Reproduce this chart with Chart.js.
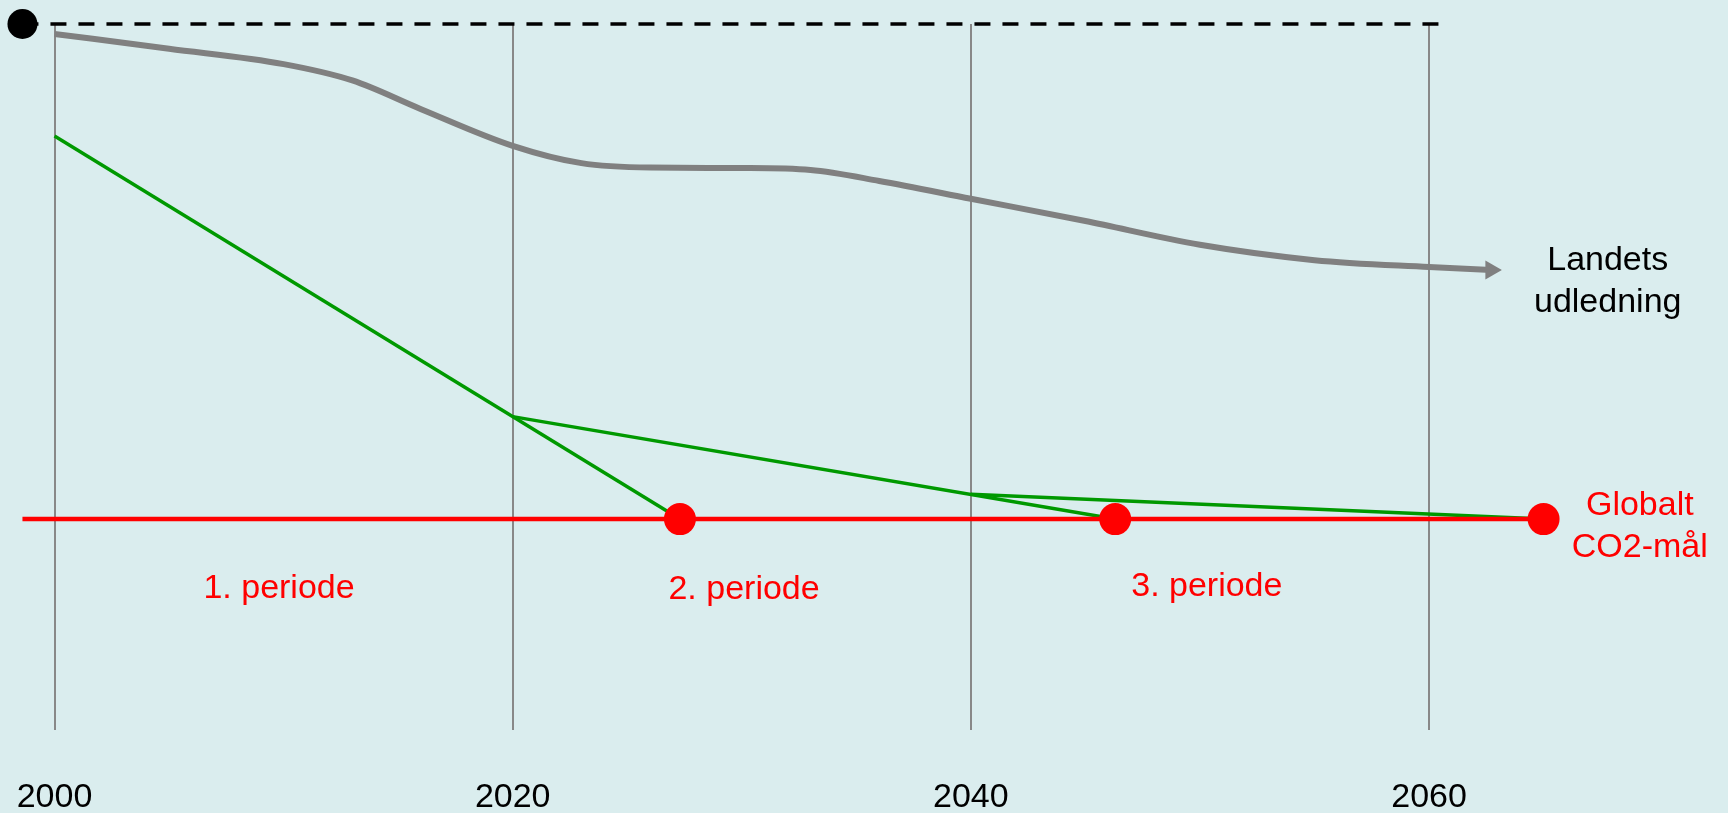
<!DOCTYPE html>
<html lang="da">
<head>
<meta charset="utf-8">
<title>Landets udledning og globalt CO2-mål</title>
<script src="https://cdn.jsdelivr.net/npm/chart.js@4/dist/chart.umd.min.js"></script>
<style>
    html, body {
        margin: 0;
        padding: 0;
        background: #daedee;
    }
    #wrap {
        width: 1728px;
        height: 813px;
    }
</style>
</head>
<body>
<div id="wrap"><canvas id="chart" width="1728" height="813"></canvas></div>
<script>
// Akse: år
const GRID_YEARS = [2000, 2020, 2040, 2060];

// Landets udledning (grå kurve med pil)
const UDLEDNING_YEARS = [2000, 2005, 2010, 2013, 2016, 2020, 2023, 2026, 2030, 2033, 2036, 2040, 2045, 2050, 2055, 2060, 2062.7];
const UDLEDNING_VALUES = [98.0, 95.0, 91.9, 88.6, 82.8, 75.4, 71.9, 71.0, 70.9, 70.5, 68.3, 64.7, 60.2, 55.4, 52.3, 50.9, 50.3];

// Reduktionsforløb for de tre perioder (grønne linjer)
const PERIODE1_YEARS = [2000, 2027.3];
const PERIODE1_VALUES = [77.4, 0];
const PERIODE2_YEARS = [2020, 2046.3];
const PERIODE2_VALUES = [20.7, 0];
const PERIODE3_YEARS = [2040, 2065];
const PERIODE3_VALUES = [5.0, 0];

// Globalt CO2-mål (rød linje med punkter)
const MAAL_YEARS = [1998.6, 2027.3, 2046.3, 2065];
const MAAL_VALUES = [0, 0, 0, 0];

// Udgangspunkt (sort punkt og stiplet linje)
const START_YEARS = [1998.6, 2060.8];
const START_VALUES = [100, 100];

// Tekster
const PERIODE_LABELS = ['1. periode', '2. periode', '3. periode'];
const PERIODE_LABEL_YEARS = [2009.8, 2030.1, 2050.3];
const PERIODE_LABEL_VALUES = [-16.0, -16.2, -15.6];
const SIDE_LABELS = [['Landets', 'udledning'], ['Globalt', 'CO2-mål']];
const SIDE_LABEL_YEARS = [2067.8, 2069.2];
const SIDE_LABEL_VALUES = [50.3, 0.8];

const FONT = "'Liberation Sans', Arial, sans-serif";

function points(xs, ys) {
    return xs.map((x, i) => ({ x: x, y: ys[i] }));
}

// Tekster tegnes via skalaerne
const textPlugin = {
    id: 'texts',
    afterDatasetsDraw(chart) {
        const ctx = chart.ctx;
        const xs = chart.scales.x;
        const ys = chart.scales.y;
        ctx.save();
        ctx.font = '34px ' + FONT;
        ctx.textAlign = 'center';
        ctx.textBaseline = 'alphabetic';

        ctx.fillStyle = '#ff0000';
        PERIODE_LABELS.forEach((txt, i) => {
            ctx.fillText(txt, xs.getPixelForValue(PERIODE_LABEL_YEARS[i]), ys.getPixelForValue(PERIODE_LABEL_VALUES[i]));
        });

        const colors = ['#000000', '#ff0000'];
        SIDE_LABELS.forEach((lines, i) => {
            ctx.fillStyle = colors[i];
            const x = xs.getPixelForValue(SIDE_LABEL_YEARS[i]);
            const y = ys.getPixelForValue(SIDE_LABEL_VALUES[i]);
            lines.forEach((line, j) => ctx.fillText(line, x, y + j * 41.5));
        });
        ctx.restore();
    }
};

new Chart(document.getElementById('chart'), {
    type: 'line',
    data: {
        datasets: [
            {
                data: points(MAAL_YEARS, MAAL_VALUES),
                borderColor: '#ff0000',
                backgroundColor: '#ff0000',
                borderWidth: 4.5,
                pointRadius: [0, 16, 16, 16],
                pointBorderWidth: 0,
                order: 0
            },
            {
                data: points(PERIODE1_YEARS, PERIODE1_VALUES),
                borderColor: '#009900',
                borderWidth: 3.5,
                pointRadius: 0,
                order: 1
            },
            {
                data: points(PERIODE2_YEARS, PERIODE2_VALUES),
                borderColor: '#009900',
                borderWidth: 3.5,
                pointRadius: 0,
                order: 1
            },
            {
                data: points(PERIODE3_YEARS, PERIODE3_VALUES),
                borderColor: '#009900',
                borderWidth: 3.5,
                pointRadius: 0,
                order: 1
            },
            {
                data: points(UDLEDNING_YEARS, UDLEDNING_VALUES),
                borderColor: '#808080',
                backgroundColor: '#808080',
                borderWidth: 6,
                cubicInterpolationMode: 'monotone',
                pointStyle: 'triangle',
                pointRotation: 90,
                pointRadius: ctx => ctx.dataIndex === UDLEDNING_YEARS.length - 1 ? 11 : 0,
                pointBorderWidth: 0,
                order: 2
            },
            {
                data: points(START_YEARS, START_VALUES),
                borderColor: '#000000',
                backgroundColor: '#000000',
                borderWidth: 3.5,
                borderDash: [16, 12],
                pointRadius: [15, 0],
                pointBorderWidth: 0,
                order: 3
            }
        ]
    },
    options: {
        responsive: false,
        animation: false,
        clip: false,
        layout: { autoPadding: false, padding: { top: 24, left: 0, right: 0, bottom: 0 } },
        plugins: {
            legend: { display: false },
            tooltip: { enabled: false }
        },
        scales: {
            x: {
                type: 'linear',
                min: 1997.62,
                max: 2073.05,
                afterBuildTicks: scale => {
                    scale.ticks = GRID_YEARS.map(v => ({ value: v }));
                },
                afterFit: scale => {
                    scale.height = 83;
                    scale.paddingLeft = 0;
                    scale.paddingRight = 0;
                },
                grid: {
                    color: '#888888',
                    lineWidth: 2,
                    drawTicks: false
                },
                border: { display: false },
                ticks: {
                    padding: 47,
                    color: '#000000',
                    font: { family: FONT, size: 34 },
                    callback: value => String(value)
                }
            },
            y: {
                display: false,
                min: -42.6,
                max: 100
            }
        }
    },
    plugins: [textPlugin]
});
</script>
</body>
</html>
